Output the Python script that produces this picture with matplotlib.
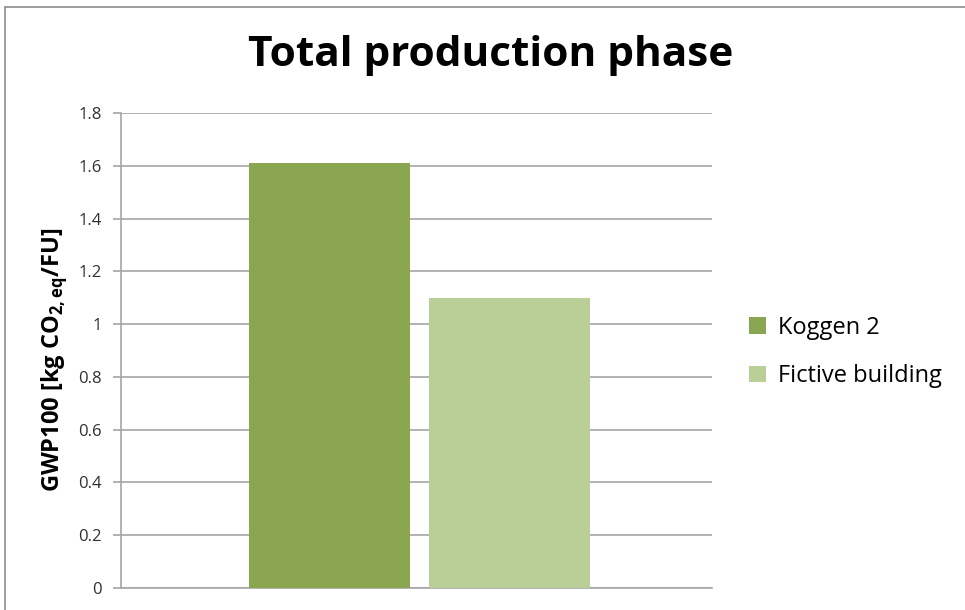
import matplotlib
matplotlib.use("Agg")
import matplotlib.pyplot as plt
from matplotlib.patches import Rectangle

categories = ["Total production phase"]
series_names = ["Koggen 2", "Fictive building"]
values = [1.61, 1.10]
colors = ["#8BA650", "#BACF98"]
yticks = [0, 0.2, 0.4, 0.6, 0.8, 1, 1.2, 1.4, 1.6, 1.8]
ytick_labels = ["0", "0.2", "0.4", "0.6", "0.8", "1", "1.2", "1.4", "1.6", "1.8"]

plt.rcParams['font.family'] = ['Open Sans', 'DejaVu Sans']
plt.rcParams['mathtext.fontset'] = 'custom'
plt.rcParams['mathtext.rm'] = 'Open Sans'
plt.rcParams['mathtext.bf'] = 'Open Sans:bold'

W, H = 965, 610
fig = plt.figure(figsize=(W/100, H/100), dpi=100)
ax = fig.add_axes([121/W, 1-588/H, (712-121)/W, (588-113)/H])

# figure border
fig.patches.append(Rectangle((5/W, -0.1), 1.2, 1 - 7/H + 0.1, transform=fig.transFigure,
                             fill=False, edgecolor="#8C8C8C", linewidth=1.2, zorder=0))

bar_w = 0.272
offsets = [-0.147, 0.157]
for name, v, c, off in zip(series_names, values, colors, offsets):
    ax.bar(off, v, width=bar_w, color=c, label=name, zorder=3)

ax.set_xlim(-0.5, 0.5)
ax.set_ylim(0, 1.8)
ax.set_yticks(yticks)
ax.set_yticklabels(ytick_labels, fontsize=12, color="#303030")
ax.set_xticks([])
ax.grid(axis='y', color="#A6A6A6", linewidth=1.2, zorder=0)
for s in ["top", "right"]:
    ax.spines[s].set_visible(False)
ax.spines["left"].set_color("#A6A6A6")
ax.spines["left"].set_linewidth(1.2)
ax.spines["bottom"].set_color("#A6A6A6")
ax.spines["bottom"].set_linewidth(1.2)
ax.tick_params(axis='y', length=6, width=1.2, color="#A6A6A6", pad=8)

ax.set_ylabel(r"GWP100 [kg CO$_{\mathbf{2,eq}}$/FU]", fontsize=17, fontweight='bold')
ax.yaxis.set_label_coords(-0.088, 0.48)

fig.text(491/W, 1-55/H, categories[0], ha='center', va='center', fontsize=30.5, fontweight='bold')

leg = ax.legend(loc='center left', bbox_to_anchor=(728/W, 1-352/H), bbox_transform=fig.transFigure,
                frameon=False, fontsize=17, handlelength=0.7, handleheight=0.7,
                handletextpad=0.5, labelspacing=1.05)

fig.savefig("out.png", dpi=100)
